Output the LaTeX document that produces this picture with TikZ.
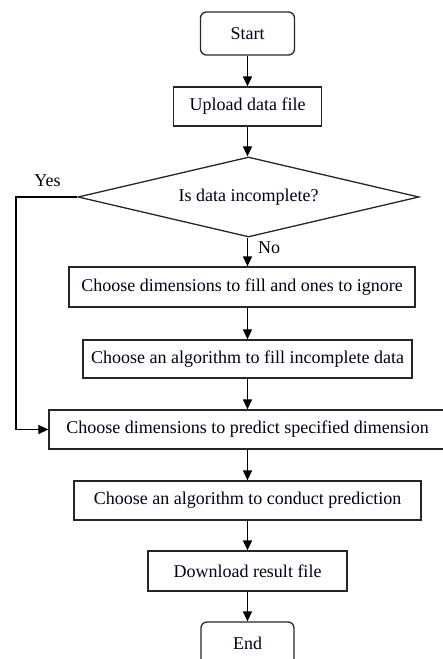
\documentclass[tikz,border=0pt]{standalone}
\usepackage{fontspec}
\setmainfont{Liberation Serif}
\usetikzlibrary{shapes.geometric,arrows.meta}
\begin{document}
\begin{tikzpicture}[x=1bp,y=-1bp,
  font=\fontsize{18bp}{22bp}\selectfont,
  base/.style={draw=black!85, line width=1.3bp, inner sep=0pt, text=black!90!blue},
  proc/.style={base, rectangle},
  term/.style={base, rectangle, rounded corners=6bp},
  cond/.style={base, diamond, aspect=4.26},
  flow/.style={line width=1.3bp, -{Triangle[length=10bp,width=9bp]}}]
\useasboundingbox (0,0) rectangle (443,659);
\clip (0,0) rectangle (443,659);

% steps of the flow
\node[term, minimum width=94bp, minimum height=43bp] (start) at (247.5,33.5) {Start};
\node[proc, minimum width=148bp, minimum height=39bp] (upload) at (247.5,106.5) {Upload data file};
\node[cond, minimum width=341bp, minimum height=80bp] (check) at (248.5,197) {Is data incomplete?};
\node[proc, minimum width=346bp, minimum height=40bp] (dims) at (242,287) {Choose dimensions to fill and ones to ignore};
\node[proc, minimum width=329bp, minimum height=38bp] (fill) at (247.5,359) {Choose an algorithm to fill incomplete data};
\node[proc, minimum width=402bp, minimum height=39bp] (pred) at (250,429.5) {\hspace*{-5bp}Choose dimensions to predict specified dimension};
\node[proc, minimum width=347bp, minimum height=39bp] (algo) at (247.5,500.5) {Choose an algorithm to conduct prediction};
\node[proc, minimum width=199bp, minimum height=40bp] (down) at (247.5,571) {Download result file};
\node[term, minimum width=93bp, minimum height=43bp] (end) at (247.5,643.5) {End};

% branch labels
\node (yes) at (47.5,181) {Yes};
\node (no) at (269,248) {No};

% connectors
\coordinate (bend) at (16,197);
\draw[flow] (start.south) -- (upload.north);
\draw[flow] (upload.south) -- (upload.south |- check.north);
\draw[flow] (upload.south |- check.south) -- (upload.south |- dims.north);
\draw[flow] (fill.north |- dims.south) -- (fill.north);
\draw[flow] (fill.south) -- (fill.south |- pred.north);
\draw[flow] (algo.north |- pred.south) -- (algo.north);
\draw[flow] (algo.south) -- (down.north);
\draw[flow] (down.south) -- (end.north);
\draw[flow] (check.west) -- (bend) |- (pred.west);
\end{tikzpicture}
\end{document}
